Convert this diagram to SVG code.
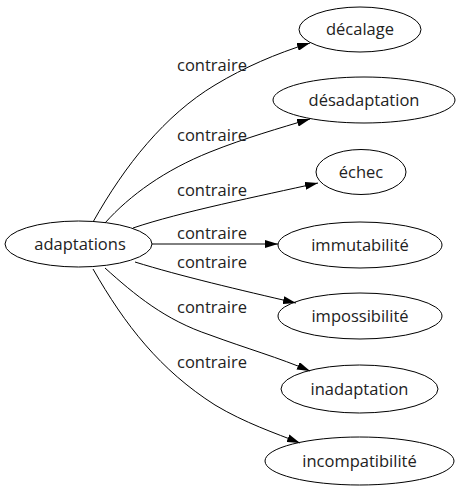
<svg xmlns="http://www.w3.org/2000/svg" width="459" height="491" viewBox="0 0 459 491">
<style>
.n ellipse{fill:none;stroke:#000;stroke-width:1}
text{font-family:"Open Sans",sans-serif;font-size:16.5px;fill:#222;text-anchor:middle}
.e path{fill:none;stroke:#000;stroke-width:1}
</style>
<defs>
<marker id="ah" viewBox="0 0 13 8" refX="13" refY="4" markerWidth="13" markerHeight="8" markerUnits="userSpaceOnUse" orient="auto">
<path d="M0,0 L13,4 L0,8 Z" fill="#000"/>
</marker>
</defs>
<rect width="459" height="491" fill="#fff"/>
<g id="edges" class="e">
<path d="M93,222 C125,165 165,115 215,85 C245,67 275,54 310,43" marker-end="url(#ah)"/>
<path d="M105,223 C130,195 165,170 210,152 C245,138 280,128 310,119" marker-end="url(#ah)"/>
<path d="M133,228 C180,212 260,196 318,183" marker-end="url(#ah)"/>
<path d="M152,244 L278,244" marker-end="url(#ah)"/>
<path d="M135,262 C180,276 240,290 296,303" marker-end="url(#ah)"/>
<path d="M105,268 C135,295 165,320 210,335 C245,348 280,358 310,371" marker-end="url(#ah)"/>
<path d="M93,269 C125,325 160,370 215,405 C245,423 275,433 300,443" marker-end="url(#ah)"/>
<text x="212" y="71">contraire</text>
<text x="212" y="141">contraire</text>
<text x="212" y="196">contraire</text>
<text x="212" y="239">contraire</text>
<text x="212" y="268">contraire</text>
<text x="212" y="313">contraire</text>
<text x="212" y="368">contraire</text>
</g>
<g id="adaptations" class="n"><ellipse cx="78.5" cy="244" rx="73.5" ry="23"/><text x="80" y="250">adaptations</text></g>
<g id="decalage" class="n"><ellipse cx="360" cy="29.5" rx="61" ry="22.5"/><text x="360" y="35">décalage</text></g>
<g id="desadaptation" class="n"><ellipse cx="364" cy="100" rx="91" ry="23"/><text x="364" y="106">désadaptation</text></g>
<g id="echec" class="n"><ellipse cx="361" cy="172" rx="45" ry="22.5"/><text x="361" y="178">échec</text></g>
<g id="immutabilite" class="n"><ellipse cx="360" cy="245" rx="82" ry="23"/><text x="360" y="251">immutabilité</text></g>
<g id="impossibilite" class="n"><ellipse cx="360" cy="316" rx="82" ry="23"/><text x="360" y="322">impossibilité</text></g>
<g id="inadaptation" class="n"><ellipse cx="359.5" cy="389" rx="78.5" ry="24"/><text x="359.5" y="395">inadaptation</text></g>
<g id="incompatibilite" class="n"><ellipse cx="359.5" cy="461" rx="94.5" ry="24"/><text x="359.5" y="467">incompatibilité</text></g>
</svg>
